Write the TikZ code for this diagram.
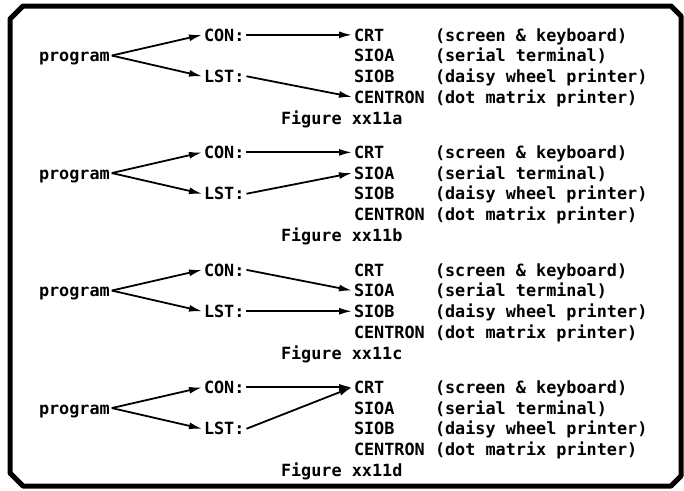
\documentclass[tikz,border=0pt]{standalone}
\usepackage{fontspec}
\setmonofont{DejaVu Sans Mono}
\usetikzlibrary{arrows.meta}
\begin{document}
\begin{tikzpicture}[x=1pt, y=-1pt, >={Latex[length=13pt,width=7pt]}, line width=1.8pt,
  txt/.style={anchor=base west, inner sep=0pt, outer sep=2pt, text height=12.3pt, text depth=0pt, font=\ttfamily\bfseries\fontsize{16.8}{20}\selectfont}]
\useasboundingbox (0,0) rectangle (684,490);
% frame
\draw [line width=5pt, line join=round] (10,19) -- (23,6) -- (671,6) -- (681,16) -- (681,476) -- (671,486) -- (23,486) -- (10,473) -- cycle;
% one block per figure
\foreach \i/\c/\cto/\lto [evaluate=\i as \y using 41+117.5*\i] in {0/a/crt/cen, 1/b/crt/sioa, 2/c/sioa/siob, 3/d/crt/crt} {
  \node [txt] (prog\i) at (37,\y+20.7) {program};
  \node [txt] (con\i) at (202,\y) {CON:};
  \node [txt] (lst\i) at (202,\y+41.4) {LST:};
  \node [txt] (crt\i) at (352,\y) {CRT};
  \node [txt] (sioa\i) at (352,\y+20.7) {SIOA};
  \node [txt] (siob\i) at (352,\y+41.4) {SIOB};
  \node [txt] (cen\i) at (352,\y+62.1) {CENTRON};
  \node [txt] (dcrt\i) at (433,\y) {(screen \& keyboard)};
  \node [txt] (dsioa\i) at (433,\y+20.7) {(serial terminal)};
  \node [txt] (dsiob\i) at (433,\y+41.4) {(daisy wheel printer)};
  \node [txt] (dcen\i) at (433,\y+62.1) {(dot matrix printer)};
  \node [txt] (fig\i) at (279,\y+83) {Figure xx11\c};
  \draw [->] (prog\i.east) -- (con\i.west);
  \draw [->] (prog\i.east) -- (lst\i.west);
  \draw [->] (con\i.east) -- (\cto\i.west);
  \draw [->] (lst\i.east) -- (\lto\i.west);
}
\end{tikzpicture}
\end{document}
